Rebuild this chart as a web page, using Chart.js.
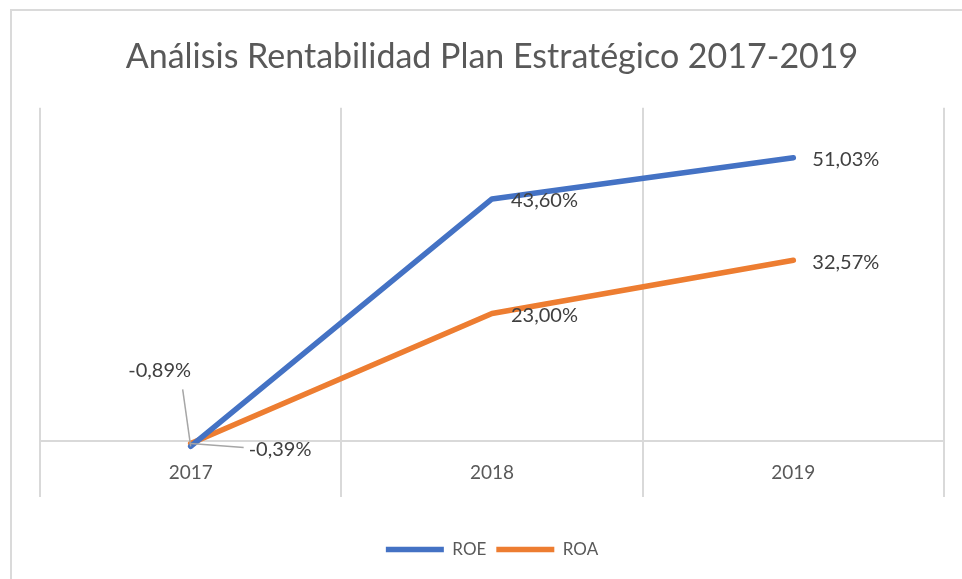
<!DOCTYPE html>
<html>
<head>
<meta charset="utf-8">
<script src="https://cdn.jsdelivr.net/npm/chart.js@4/dist/chart.umd.min.js"></script>
<style>
  html, body { margin: 0; padding: 0; background: #fff; overflow: hidden; }
  #frame { position: absolute; left: 10px; top: 9px; width: 1000px; height: 620px; border: 2px solid #dadada; }
  #wrap { position: absolute; left: 0; top: 0; width: 962px; height: 579px; }
</style>
</head>
<body>
<div id="frame"></div>
<div id="wrap"><canvas id="chart" width="962" height="579"></canvas></div>
<script>
// Data
const years = ['2017', '2018', '2019'];
const roe = [-0.89, 43.60, 51.03];
const roa = [-0.39, 23.00, 32.57];

const blue = '#4472C4';
const orange = '#ED7D31';
const gridGray = '#d9d9d9';
const fontFamily = 'Lato, "Open Sans", sans-serif';

function fmtPct(v) {
    return v.toFixed(2).replace('.', ',') + '%';
}

// Data labels drawn next to each point (Excel style), with leader lines for 2017
const valueLabels = {
    id: 'valueLabels',
    afterDatasetsDraw(chart, args, opts) {
        const ctx = chart.ctx;
        ctx.save();
        ctx.font = opts.size + 'px ' + fontFamily;
        ctx.fillStyle = opts.color;
        ctx.textBaseline = 'middle';
        chart.data.datasets.forEach(function(ds, di) {
            const meta = chart.getDatasetMeta(di);
            meta.data.forEach(function(pt, i) {
                const o = (opts.offsets[di] && opts.offsets[di][i]) || opts.defaultOffset;
                if (o.leader) {
                    ctx.beginPath();
                    ctx.moveTo(pt.x, pt.y);
                    ctx.lineTo(pt.x + o.leader[0], pt.y + o.leader[1]);
                    ctx.lineWidth = 1.5;
                    ctx.strokeStyle = '#a6a6a6';
                    ctx.stroke();
                }
                ctx.textAlign = o.align || 'left';
                ctx.fillText(fmtPct(ds.data[i]), pt.x + o.dx, pt.y + o.dy);
            });
        });
        ctx.restore();
    }
};

const ctx = document.getElementById('chart').getContext('2d');

const chart = new Chart(ctx, {
    type: 'line',
    data: {
        labels: years,
        datasets: [
            {
                label: 'ROE',
                data: roe,
                borderColor: blue,
                backgroundColor: blue,
                borderWidth: 5.5,
                borderCapStyle: 'round',
                borderJoinStyle: 'round',
                pointRadius: 0,
                tension: 0
            },
            {
                label: 'ROA',
                data: roa,
                borderColor: orange,
                backgroundColor: orange,
                borderWidth: 5.5,
                borderCapStyle: 'round',
                borderJoinStyle: 'round',
                pointRadius: 0,
                tension: 0
            }
        ]
    },
    options: {
        responsive: false,
        animation: false,
        layout: { padding: { left: 40, right: 18, top: 0, bottom: 11 } },
        scales: {
            x: {
                position: { y: 0 },
                offset: true,
                grid: { offset: true, color: gridGray, lineWidth: 2, drawTicks: false },
                border: { display: true, color: gridGray, width: 2 },
                ticks: { color: '#595959', padding: 20, font: { family: fontFamily, size: 19 } }
            },
            y: {
                display: true,
                min: -10,
                max: 60,
                ticks: { display: false, stepSize: 10 },
                grid: { display: false, drawTicks: false },
                border: { display: false }
            }
        },
        plugins: {
            title: {
                display: true,
                text: 'Análisis Rentabilidad Plan Estratégico 2017-2019',
                color: '#595959',
                font: { family: fontFamily, size: 34, weight: 'normal', lineHeight: 1.2 },
                padding: { top: 37, bottom: 30 }
            },
            subtitle: {
                display: true,
                text: '',
                position: 'bottom',
                weight: 500,
                font: { size: 10, lineHeight: 1 },
                padding: { top: 24, bottom: 0 }
            },
            legend: {
                position: 'bottom',
                labels: {
                    usePointStyle: true,
                    pointStyle: 'line',
                    pointStyleWidth: 58,
                    padding: 10,
                    color: '#595959',
                    font: { family: fontFamily, size: 17 }
                }
            },
            tooltip: { enabled: false },
            valueLabels: {
                size: 20,
                color: '#404040',
                defaultOffset: { dx: 19, dy: 2, align: 'left' },
                offsets: [
                    [{ dx: -31, dy: -76, align: 'center', leader: [-8, -57] }],
                    [{ dx: 58, dy: 6, align: 'left', leader: [53, 4] }]
                ]
            }
        }
    },
    plugins: [valueLabels]
});
</script>
</body>
</html>
